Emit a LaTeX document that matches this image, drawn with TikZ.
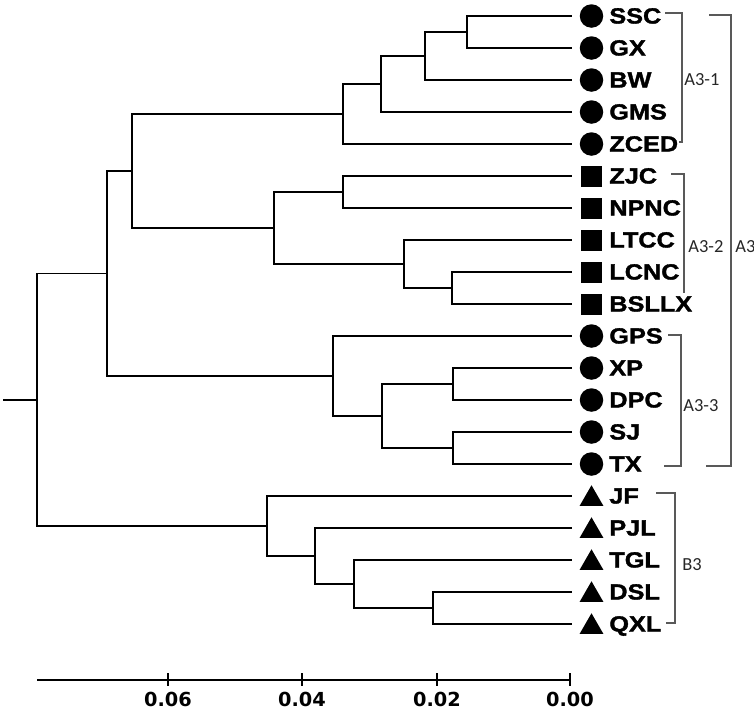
\documentclass[tikz,border=0pt]{standalone}
\usepackage{fontspec}
\usetikzlibrary{shapes.geometric}
\newfontfamily\leaffont[FakeStretch=1.15, FakeBold=1.6]{Liberation Sans}
\newfontfamily\groupfont{Carlito}
\newfontfamily\tickfont{DejaVu Sans}
\tikzset{
    branch/.style={line width=1.1pt},
    bracket/.style={line width=0.6pt, black!65},
    leaflabel/.style={anchor=base west, inner sep=0pt, font=\leaffont\bfseries\fontsize{12.5}{14}\selectfont},
    grouplabel/.style={anchor=west, inner sep=0pt, font=\groupfont\fontsize{10.5}{12}\selectfont, black!85},
    ticklabel/.style={inner sep=0pt, font=\tickfont\bfseries\fontsize{11}{13}\selectfont},
    dotmark/.style={circle, fill, inner sep=0pt, minimum size=0.47cm},
    boxmark/.style={rectangle, fill, inner sep=0pt, minimum size=0.42cm},
    trimark/.style={regular polygon, regular polygon sides=3, fill, inner sep=0pt, minimum size=0.55cm}
}
\begin{document}
\begin{tikzpicture}[x=0.02cm, y=-0.02cm]
    \useasboundingbox (0,0) rectangle (754,711);

    % 1. Leaves
    \foreach \name [count=\i from 0] in {SSC,GX,BW,GMS,ZCED,ZJC,NPNC,LTCC,LCNC,BSLLX,GPS,XP,DPC,SJ,TX,JF,PJL,TGL,DSL,QXL} {
        \coordinate (\name) at (572, 16+32*\i);
        \node[leaflabel] (t\name) at (609, 23.5+32*\i) {\name};
    }
    \foreach \name in {SSC,GX,BW,GMS,ZCED,GPS,XP,DPC,SJ,TX}
        \node[dotmark] (m\name) at ([xshift=0.39cm]\name) {};
    \foreach \name in {ZJC,NPNC,LTCC,LCNC,BSLLX}
        \node[boxmark] (m\name) at ([xshift=0.39cm]\name) {};
    \foreach \name in {JF,PJL,TGL,DSL,QXL}
        \node[trimark] (m\name) at ([xshift=0.39cm, yshift=-0.06cm]\name) {};

    % 2. Joins of the tree
    \coordinate (n1) at (467,32);
    \coordinate (n2) at (425,56);
    \coordinate (n3) at (381,84);
    \coordinate (n4) at (343,114);
    \coordinate (n5) at (343,192);
    \coordinate (n6) at (452,288);
    \coordinate (n7) at (404,264);
    \coordinate (n8) at (274,228);
    \coordinate (n9) at (132,171);
    \coordinate (n10) at (453,384);
    \coordinate (n11) at (453,448);
    \coordinate (n12) at (382,416);
    \coordinate (n13) at (333,376);
    \coordinate (n14) at (107,273.5);
    \coordinate (n15) at (433,608);
    \coordinate (n16) at (354,584);
    \coordinate (n17) at (315,556);
    \coordinate (n18) at (267,526);
    \coordinate (root) at (37,400);
    \coordinate (stub) at (3,400);

    % 3. Branches
    \foreach \a/\b in {n1/SSC, n1/GX, n2/n1, n2/BW, n3/n2, n3/GMS, n4/n3, n4/ZCED,
                       n5/ZJC, n5/NPNC, n6/LCNC, n6/BSLLX, n7/LTCC, n7/n6, n8/n5, n8/n7,
                       n9/n4, n9/n8, n10/XP, n10/DPC, n11/SJ, n11/TX, n12/n10, n12/n11,
                       n13/GPS, n13/n12, n14/n9, n14/n13, n15/DSL, n15/QXL, n16/TGL,
                       n16/n15, n17/PJL, n17/n16, n18/JF, n18/n17, root/n14, root/n18}
        \draw[branch] (\a) |- (\b);
    \draw[branch] (stub) -- (root);

    % 4. Group brackets
    \draw[bracket] (665,13) -- (682,13) -- (682,142) -- (679,142);
    \node[grouplabel] (gA31) at (684,80) {A3-1};
    \draw[bracket] (671,174) -- (684,174) -- (684,293);
    \node[grouplabel] (gA32) at (688,247) {A3-2};
    \draw[bracket] (668,335) -- (681,335) -- (681,466) -- (664,466);
    \node[grouplabel] (gA33) at (683,406) {A3-3};
    \draw[bracket] (709,15) -- (731,15) -- (731,466) -- (706,466);
    \node[grouplabel] (gA3) at (735,247) {A3};
    \draw[bracket] (656,493) -- (675,493) -- (675,623) -- (666,623);
    \node[grouplabel] (gB3) at (682,565) {B3};

    % 5. Scale axis
    \draw[branch] (37,680) -- (570,680);
    \foreach \x/\v in {168/0.06, 302/0.04, 437/0.02, 570/0.00} {
        \draw[branch] (\x,673) -- (\x,686);
        \node[ticklabel] (tick\x) at (\x,699) {\v};
    }
\end{tikzpicture}
\end{document}
